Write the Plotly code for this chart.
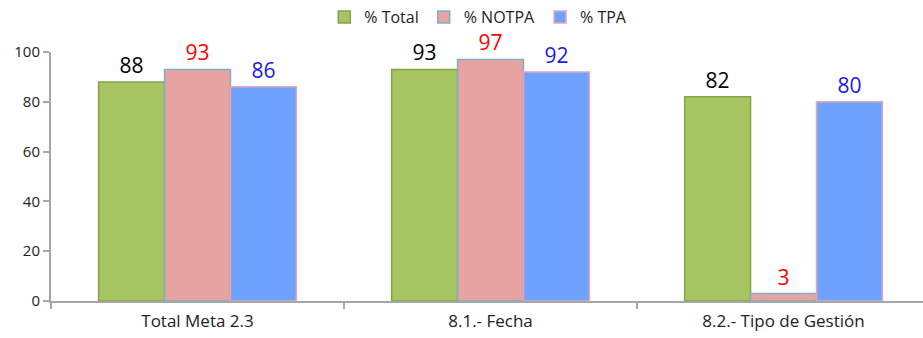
import plotly.graph_objects as go

categories = ["Total Meta 2.3", "8.1.- Fecha", "8.2.- Tipo de Gestión"]
series_names = ["% Total", "% NOTPA", "% TPA"]
total_vals = [88, 93, 82]
notpa_vals = [93, 97, 3]
tpa_vals = [86, 92, 80]
y_ticks = [0, 20, 40, 60, 80, 100]

fills = ["#A6C462", "#E6A3A2", "#6EA2FE"]
edges = ["#86A24A", "#7FAFC0", "#E3A8B8"]
label_colors = ["#000000", "#FF0000", "#1A1AE6"]

font_family = "Open Sans, Liberation Sans, sans-serif"

fig = go.Figure()
for name, vals, fill, edge, lc in zip(series_names, [total_vals, notpa_vals, tpa_vals],
                                      fills, edges, label_colors):
    fig.add_trace(go.Bar(
        name=name,
        x=categories,
        y=vals,
        marker=dict(color=fill, line=dict(color=edge, width=1.5)),
        text=[str(v) for v in vals],
        textposition="outside",
        cliponaxis=False,
        textfont=dict(family=font_family, size=21, color=lc),
    ))

fig.update_layout(
    width=923,
    height=338,
    margin=dict(l=51, r=0, t=52, b=37),
    paper_bgcolor="white",
    plot_bgcolor="white",
    barmode="group",
    bargap=0.325,
    bargroupgap=0,
    showlegend=True,
    legend=dict(
        orientation="h",
        x=0.49, xanchor="center",
        y=1.0, yref="container", yanchor="top",
        font=dict(family=font_family, size=16, color="#222222"),
        itemwidth=30,
        traceorder="normal",
    ),
    font=dict(family=font_family, color="#222222"),
)

fig.update_xaxes(
    range=[-0.5, 2.476],
    showline=True, linecolor="#A6A6A6", linewidth=2,
    ticks="outside", tickson="boundaries", ticklen=6, tickcolor="#A6A6A6", tickwidth=2,
    ticklabelstandoff=4,
    tickfont=dict(family=font_family, size=17, color="#222222"),
    showgrid=False, zeroline=False,
)
fig.update_yaxes(
    range=[0, 100],
    tickvals=y_ticks,
    showline=True, linecolor="#A6A6A6", linewidth=2,
    ticks="outside", ticklen=6, tickcolor="#A6A6A6", tickwidth=2,
    tickfont=dict(family=font_family, size=15, color="#222222"),
    showgrid=False, zeroline=False,
)

fig.write_html("out.html")
